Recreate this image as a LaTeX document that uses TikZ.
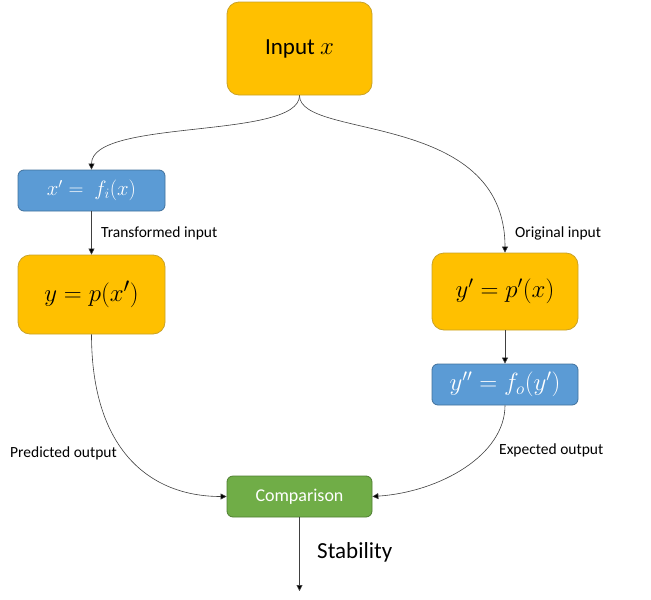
\documentclass[tikz,border=0pt]{standalone}
\usepackage{fontspec}
\setmainfont{Carlito}
\usetikzlibrary{arrows.meta}
\definecolor{gold}{HTML}{FFC000}
\definecolor{goldb}{HTML}{C9A227}
\definecolor{blu}{HTML}{5B9BD5}
\definecolor{blub}{HTML}{41719C}
\definecolor{grn}{HTML}{70AD47}
\definecolor{grnb}{HTML}{507E32}
\definecolor{wire}{HTML}{404040}
\tikzset{
  yellowbox/.style={draw=goldb, fill=gold, rounded corners=12pt, line width=0.8pt, inner sep=0pt},
  bluebox/.style={draw=blub, fill=blu, rounded corners=6pt, line width=0.8pt, inner sep=0pt, text=white},
  greenbox/.style={draw=grnb, fill=grn, rounded corners=6pt, line width=0.8pt, inner sep=0pt, text=white},
  conn/.style={draw=wire, line width=0.6pt, -{Triangle[length=6pt,width=6pt,fill=black]}},
  lbl/.style={font=\fontsize{15.5}{17}\selectfont, text=black, inner sep=0pt},
}
\begin{document}
\begin{tikzpicture}[x=1pt,y=-1pt]
\useasboundingbox (0,0) rectangle (651,600);
\node[yellowbox, minimum width=145pt, minimum height=93pt, font=\fontsize{23}{26}\selectfont] (in) at (299.5,48.5) {Input $x$};
\node[bluebox, minimum width=147pt, minimum height=41pt, font=\fontsize{22.5}{24}\selectfont] (xp) at (91.5,190.5) {$x' =\ f_i(x)$};
\node[yellowbox, minimum width=147pt, minimum height=79pt, font=\fontsize{28}{30}\selectfont] (y) at (91.5,294.5) {$y = p(x')$};
\node[yellowbox, minimum width=146pt, minimum height=77pt, font=\fontsize{27}{30}\selectfont] (yp) at (505,291.5) {$y' = p'(x)$};
\node[bluebox, minimum width=146pt, minimum height=41pt, font=\fontsize{24}{26}\selectfont] (ypp) at (505,384.5) {$y'' = f_o(y')$};
\node[greenbox, minimum width=145pt, minimum height=41pt, font=\fontsize{18}{20}\selectfont] (cmp) at (299.5,496.5) {Comparison};
\coordinate (out) at (299.5,591);
\draw[conn] (in.south) .. controls (299.5,140) and (91.5,118) .. (xp.north);
\draw[conn] (in.south) .. controls (299.5,140) and (505,110) .. (yp.north);
\draw[conn] (xp.south) -- (y.north);
\draw[conn] (yp.south) -- (ypp.north);
\draw[conn] (y.south) .. controls (91.5,450) and (150,496.5) .. (cmp.west);
\draw[conn] (ypp.south) .. controls (505,455) and (440,492) .. (cmp.east);
\draw[conn] (cmp.south) -- (out);
\node[lbl, anchor=west] (t1) at (101,233) {Transformed input};
\node[lbl, anchor=west] (t2) at (515,233) {Original input};
\node[lbl, anchor=west] (t3) at (10,453) {Predicted output};
\node[lbl, anchor=west] (t4) at (499,450) {Expected output};
\node[font=\fontsize{23}{26}\selectfont, anchor=west, inner sep=0pt] (st) at (317,552) {Stability};
\end{tikzpicture}
\end{document}
